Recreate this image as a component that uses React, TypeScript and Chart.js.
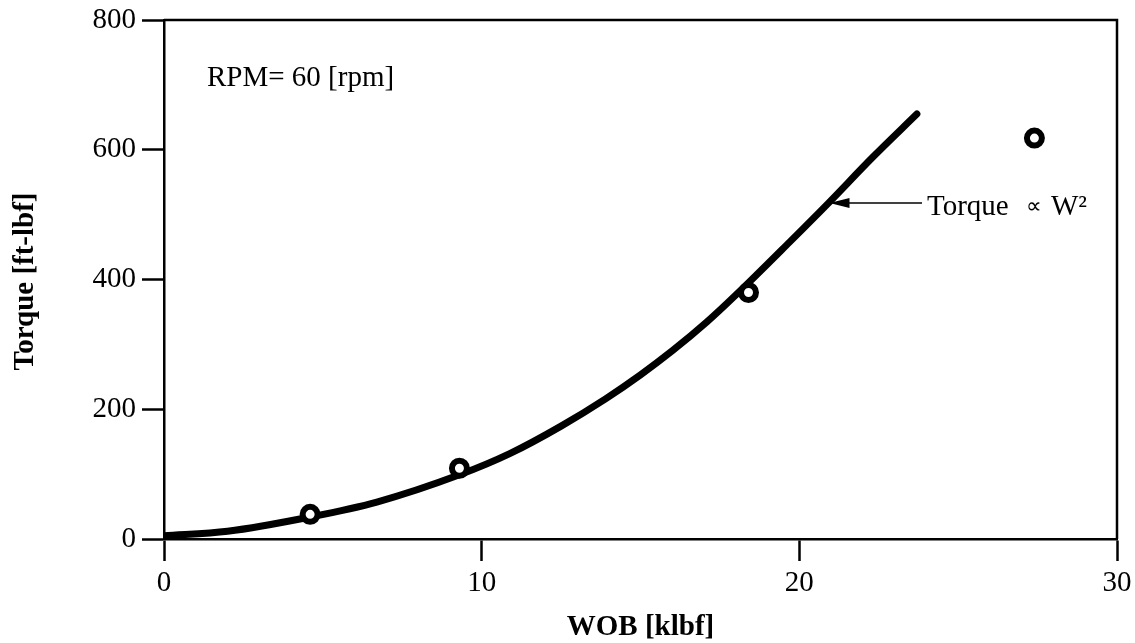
import React, { useEffect, useRef } from "react";
import { Chart, registerables } from "chart.js";

Chart.register(...registerables);

// Fitted torque curve (WOB in klbf, torque in ft-lbf)
const curveWob = [0, 2.0, 4.6, 6.7, 9.3, 10.9, 12.5, 13.9, 15.0, 16.0, 17.1, 18.0, 19.7, 20.9, 22.3, 23.7];
const curveTorque = [5, 12, 34, 57, 99, 132, 174, 216, 253, 290, 335, 376, 458, 517, 588, 655];

// Measured points
const measuredWob = [4.6, 9.3, 18.4, 27.4];
const measuredTorque = [38, 109, 380, 618];

const xTicks = [0, 10, 20, 30];
const yTicks = [0, 200, 400, 600, 800];

const SERIF = '"Liberation Serif", "Times New Roman", serif';
const FONT_SIZE = 29;

const annotations = {
  id: "annotations",
  afterDraw(chart: any) {
    const { ctx, chartArea } = chart;
    const xs = chart.scales.x;
    const ys = chart.scales.y;
    ctx.save();
    ctx.strokeStyle = "#000";
    ctx.fillStyle = "#000";
    ctx.lineWidth = 2.5;
    // top and right frame
    ctx.beginPath();
    ctx.moveTo(chartArea.left, chartArea.top);
    ctx.lineTo(chartArea.right, chartArea.top);
    ctx.lineTo(chartArea.right, chartArea.bottom);
    ctx.stroke();

    // operating condition
    ctx.font = `${FONT_SIZE}px ${SERIF}`;
    ctx.textAlign = "left";
    ctx.textBaseline = "alphabetic";
    ctx.fillText("RPM= 60 [rpm]", 207, 86);

    // leader arrow to the curve
    const tipX = xs.getPixelForValue(20.95);
    const tipY = ys.getPixelForValue(518);
    const tailX = 922;
    ctx.lineWidth = 1.5;
    ctx.beginPath();
    ctx.moveTo(tailX, tipY);
    ctx.lineTo(tipX + 18, tipY);
    ctx.stroke();
    ctx.beginPath();
    ctx.moveTo(tipX, tipY);
    ctx.lineTo(tipX + 20, tipY - 5);
    ctx.lineTo(tipX + 20, tipY + 5);
    ctx.closePath();
    ctx.fill();

    ctx.font = `${FONT_SIZE}px ${SERIF}`;
    ctx.fillText("Torque", 927, 215);
    ctx.font = `22px ${SERIF}`;
    ctx.fillText("\u221D", 1026, 213);
    ctx.font = `${FONT_SIZE}px ${SERIF}`;
    ctx.fillText("W\u00B2", 1051, 215);

    // axis titles
    ctx.font = `bold ${FONT_SIZE}px ${SERIF}`;
    ctx.textAlign = "center";
    ctx.textBaseline = "middle";
    ctx.fillText("WOB [klbf]", (chartArea.left + chartArea.right) / 2, 628);
    ctx.translate(26, (chartArea.top + chartArea.bottom) / 2 + 2);
    ctx.rotate(-Math.PI / 2);
    ctx.fillText("Torque [ft-lbf]", 0, 0);
    ctx.restore();
  },
};

// keep the plot frame fixed regardless of label overhang
const fixPadding = (s: any) => {
  s.paddingTop = 0;
  s.paddingBottom = 0;
  s.paddingLeft = 0;
  s.paddingRight = 0;
};

export default function App() {
  const canvasRef = useRef<HTMLCanvasElement | null>(null);

  useEffect(() => {
    if (!canvasRef.current) return;
    const tickFont = { family: SERIF, size: FONT_SIZE };
    const chart = new Chart(canvasRef.current, {
      type: "line",
      data: {
        datasets: [
          {
            label: "Measured",
            data: measuredWob.map((w, i) => ({ x: w, y: measuredTorque[i] })),
            showLine: false,
            pointRadius: 7.5,
            pointBorderWidth: 6,
            pointBackgroundColor: "#fff",
            pointBorderColor: "#000",
            order: 0,
          },
          {
            label: "Torque ∝ W²",
            data: curveWob.map((w, i) => ({ x: w, y: curveTorque[i] })),
            borderColor: "#000",
            borderWidth: 7,
            borderCapStyle: "round",
            pointRadius: 0,
            cubicInterpolationMode: "monotone",
            fill: false,
            order: 1,
          },
        ],
      },
      options: {
        responsive: false,
        animation: false,
        events: [],
        layout: { padding: { top: 20, right: 18, left: 0, bottom: 0 } },
        plugins: { legend: { display: false }, tooltip: { enabled: false } },
        scales: {
          x: {
            type: "linear",
            min: 0,
            max: 30,
            afterBuildTicks: (s: any) => {
              s.ticks = xTicks.map((v) => ({ value: v }));
            },
            afterFit: (s: any) => {
              s.height = 104;
              fixPadding(s);
            },
            ticks: { font: tickFont, color: "#000", padding: 5, maxRotation: 0 },
            grid: {
              display: true,
              drawOnChartArea: false,
              drawTicks: true,
              tickLength: 22,
              tickWidth: 2.5,
              tickColor: "#000",
            },
            border: { display: true, color: "#000", width: 2.5 },
          },
          y: {
            type: "linear",
            min: 0,
            max: 800,
            afterBuildTicks: (s: any) => {
              s.ticks = yTicks.map((v) => ({ value: v }));
            },
            afterFit: (s: any) => {
              s.width = 164;
              fixPadding(s);
            },
            ticks: { font: tickFont, color: "#000", padding: 6 },
            grid: {
              display: true,
              drawOnChartArea: false,
              drawTicks: true,
              tickLength: 22,
              tickWidth: 2.5,
              tickColor: "#000",
            },
            border: { display: true, color: "#000", width: 2.5 },
          },
        },
      },
      plugins: [annotations],
    } as any);
    return () => chart.destroy();
  }, []);

  return (
    <div style={{ position: "fixed", left: 0, top: 0, width: 1135, height: 643, background: "#fff" }}>
      <canvas ref={canvasRef} width={1135} height={643} style={{ display: "block" }} />
    </div>
  );
}
